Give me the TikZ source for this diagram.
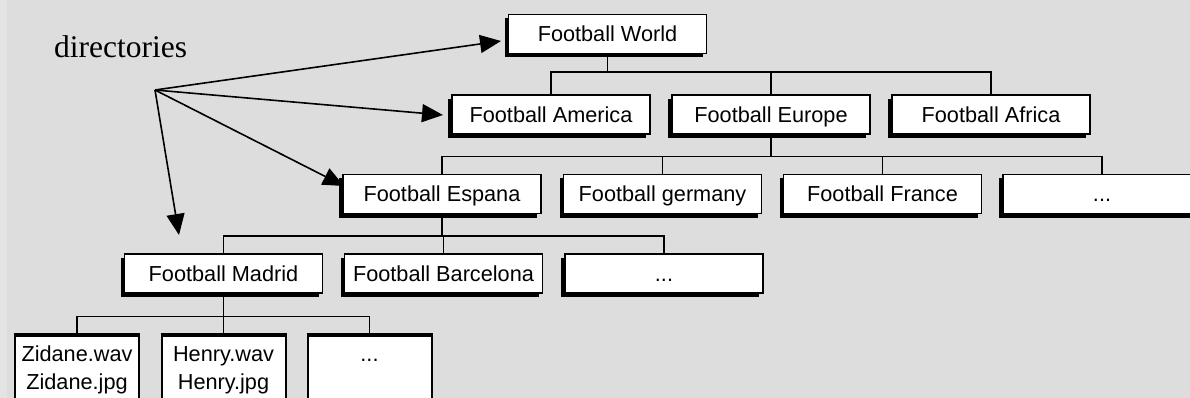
\documentclass[tikz,border=0pt]{standalone}
\usepackage{fontspec}
\setmainfont{Liberation Sans}
\newfontfamily\dirfont{Liberation Serif}
\usetikzlibrary{shadows,arrows.meta}

\definecolor{canvas}{RGB}{221,221,221}
\definecolor{canvasedge}{RGB}{228,228,228}

\tikzset{
  folder/.style={draw=black, fill=white, line width=1.2pt,
    minimum width=198pt, minimum height=39pt, inner sep=0pt,
    text height=20.2pt, text depth=4.6pt,
    font=\fontsize{21.7}{26}\selectfont,
    drop shadow={shadow xshift=-4pt, shadow yshift=-4pt, fill=black, opacity=1}},
  leaf/.style={draw=black, fill=white, line width=2pt,
    minimum width=124pt, minimum height=90pt, inner sep=0pt, anchor=north},
  leaftop/.style={line width=4.5pt},
  leaftext/.style={inner sep=0pt, anchor=north, align=center,
    font=\fontsize{21.7}{28.5}\selectfont},
  link/.style={draw=black, line width=1.3pt},
  pointer/.style={draw=black, line width=1.6pt,
    -{Triangle[length=21pt, width=18pt]}},
}

\begin{document}
\begin{tikzpicture}[x=1pt, y=-1pt]
  % canvas
  \path[use as bounding box] (0,0) rectangle (1190,398);
  \clip (0,0) rectangle (1190,398);
  \fill[canvas] (0,0) rectangle (1190,398);
  \fill[canvasedge] (0,0) rectangle (7,398);

  % label
  \node[anchor=base west, inner sep=0pt, font=\dirfont\fontsize{31.5}{36}\selectfont]
    (dirlabel) at (54,58) {directories};

  % level 0
  \node[folder] (world) at (607.5,34) {Football World};
  % level 1
  \node[folder] (america) at (551,114.5) {Football America};
  \node[folder] (europe)  at (771,114.5) {Football Europe};
  \node[folder] (africa)  at (991,114.5) {Football Africa};
  % level 2
  \node[folder] (espana)  at (442,194) {Football Espana};
  \node[folder] (germany) at (662.5,194) {Football germany};
  \node[folder] (france)  at (882.5,194) {Football France};
  \node[folder] (moreeu)  at (1102,194) {...};
  % level 3
  \node[folder] (madrid)    at (223.5,273.5) {Football Madrid};
  \node[folder] (barcelona) at (443.5,273.5) {Football Barcelona};
  \node[folder] (morees)    at (664,273.5) {...};
  % files
  \node[leaf] (zidane) at (77,335) {};
  \node[leaf] (henry)  at (223.5,335) {};
  \node[leaf] (morefiles) at (369.5,335) {};
  \foreach \f in {zidane,henry,morefiles}
    \draw[leaftop] (\f.north west) -- (\f.north east);
  \node[leaftext] (zidanetext) at (77,341) {\strut Zidane.wav\\Zidane.jpg};
  \node[leaftext] (henrytext)  at (223.5,341) {\strut Henry.wav\\Henry.jpg};
  \node[leaftext] (moretext)   at (369.5,341) {\strut ...};

  % tree links
  \foreach \c in {america,europe,africa}
    \draw[link] (world.south) -- ++(0,18) -| (\c.north);
  \foreach \c in {espana,germany,france,moreeu}
    \draw[link] (europe.south) -- ++(0,22) -| (\c.north);
  \foreach \c in {madrid,barcelona,morees}
    \draw[link] (espana.south) -- ++(0,22) -| (\c.north);
  \foreach \c in {zidane,henry,morefiles}
    \draw[link] (madrid.south) -- ++(0,23) -| (\c.north);

  % pointers from the label
  \coordinate (hub) at (155,90);
  \coordinate (toworld) at (501,41);
  \coordinate (toamerica) at (443,115);
  \coordinate (toespana) at (344,186);
  \coordinate (tomadrid) at (179,235);
  \foreach \t in {toworld,toamerica,toespana,tomadrid}
    \draw[pointer] (hub) -- (\t);
\end{tikzpicture}
\end{document}
